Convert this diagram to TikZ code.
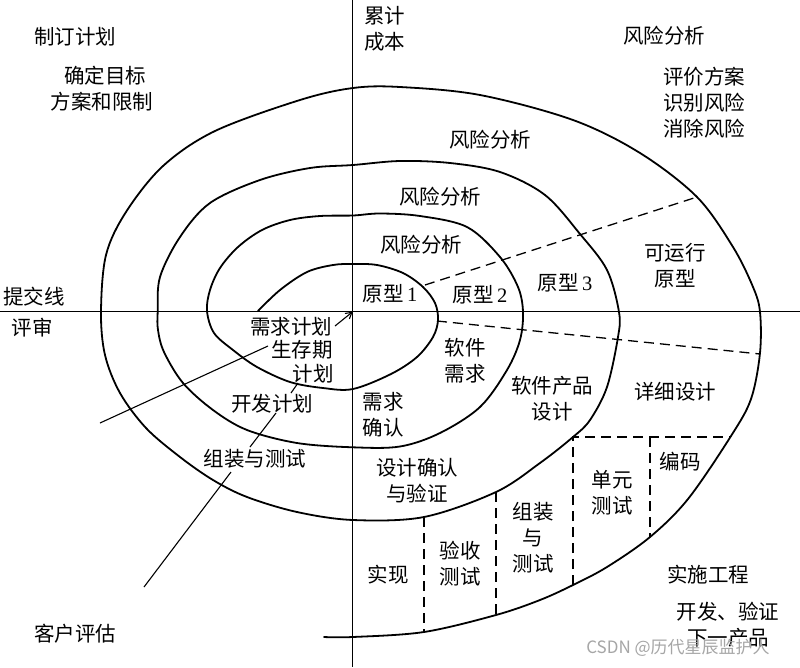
\documentclass[tikz,border=0pt]{standalone}
\usepackage{fontspec}
\setmainfont{Liberation Serif}
\newfontfamily\cjkfont{Noto Sans CJK SC}
\usetikzlibrary{arrows.meta}
\begin{document}
\begin{tikzpicture}[x=1pt,y=-1pt,
  lbl/.style={font=\cjkfont\fontsize{20.5}{26}\selectfont, inner sep=0pt, align=center},
  spiral/.style={line width=1.8pt, line join=round, line cap=round},
  axis/.style={line width=1.1pt},
  dsh/.style={line width=1.3pt, dash pattern=on 10pt off 6pt},
  lead/.style={line width=1.1pt}]
\useasboundingbox[fill=white] (0,0) rectangle (800,667);

% axes
\coordinate (vTop) at (352.7,0);
\coordinate (vBot) at (352.7,667);
\coordinate (hL) at (0,311.7);
\coordinate (hR) at (800,311.7);
\coordinate (O) at (352.7,311.7);
\draw[axis] (vTop) -- (vBot);
\draw[axis] (hL) -- (hR);

% spiral
\draw[spiral] plot[smooth, tension=0.55] coordinates {
 (258,311) (280,290) (307,272) (333,265) (353,264)
 (377,265) (403,273) (423,287) (435,303) (438,320) (433,337) (417,357) (391,374) (353,389)
 (323,388) (290,382) (257,367) (233,350) (214,333) (207,311) (210,290) (220,268) (238,247) (262,230) (290,220) (320,216) (353,215.5)
 (380,213.5) (420,216) (467,227) (500,257) (518,287) (523,312) (520,340) (507,370) (480,407) (440,433) (400,446.5) (353,447.3)
 (297,443) (247,430) (213,410) (183,383) (164,352) (158,330) (157.7,311.7) (160,277) (180,237) (210,203) (260,180) (310,168) (353,165)
 (400,161) (450,163) (500,172) (545,195) (580,234) (607,270) (619,312) (618,337) (607,387) (590,420) (573,437) (540,463) (496,492) (424,517) (353,520)
 (297,512) (247,497) (213,480) (180,457) (146,428) (120,393) (105,355) (101,312) (106,255) (126,212) (163,166) (215,131) (300,100) (353,88)
 (400,87) (480,95) (573,120) (640,153) (697,197) (733,247) (753,287) (760,312) (760,353) (751,399) (731,436) (688,499) (650,537) (607,567) (573,585) (540,600) (496,615) (424,632) (353,637) (324,637)
};

% dashed partitions
\coordinate (dU1) at (425,285);
\coordinate (dU2) at (697,197);
\coordinate (dL1) at (437,321);
\coordinate (dL2) at (760,354);
\coordinate (bx1) at (573,437);
\coordinate (bx2) at (730,437);
\coordinate (bx3) at (650,437);
\coordinate (bx1b) at (573,585);
\coordinate (bx3b) at (650,537);
\coordinate (bx4t) at (496,492);
\coordinate (bx4b) at (496,615);
\coordinate (bx5t) at (424,517);
\coordinate (bx5b) at (424,632);
\draw[dsh] (dU1) -- (dU2);
\draw[dsh] (dL1) -- (dL2);
\draw[dsh] (bx1b) -- (bx1) -- (bx2);
\draw[dsh] (bx3) -- (bx3b);
\draw[dsh] (bx4t) -- (bx4b);
\draw[dsh] (bx5t) -- (bx5b);

% labels
\node[lbl] (zdjh) at (75,37) {制订计划};
\node[lbl] (qdmb) at (105,76) {确定目标};
\node[lbl] (fahx) at (102,102) {方案和限制};
\node[lbl, anchor=west] (leiji) at (364,16) {累计};
\node[lbl, anchor=west] (chengben) at (364,42) {成本};
\node[lbl] (fxfx0) at (664,36) {风险分析};
\node[lbl] (pjfa) at (704,103) {评价方案\\识别风险\\消除风险};
\node[lbl] (fxfx1) at (490,140) {风险分析};
\node[lbl] (fxfx2) at (440,197) {风险分析};
\node[lbl] (fxfx3) at (421,245) {风险分析};
\node[lbl] (tjx) at (34,297) {提交线};
\node[lbl] (ps) at (32,328) {评审};
\node[lbl] (yx1) at (390,294) {原型\,{\rmfamily 1}};
\node[lbl] (yx2) at (480,295) {原型\,{\rmfamily 2}};
\node[lbl] (yx3) at (565,283) {原型\,{\rmfamily 3}};
\node[lbl] (kyx) at (675,266) {可运行\\原型};
\node[lbl] (xqjh) at (291,327) {需求计划};
\node[lbl] (scq) at (302,350) {生存期};
\node[lbl] (jh) at (313,374) {计划};
\node[lbl] (kfjh) at (272,404) {开发计划};
\node[lbl] (rjxq) at (465,361) {软件\\需求};
\node[lbl] (rjcp) at (552,399) {软件产品\\设计};
\node[lbl] (xxsj) at (675,392) {详细设计};
\node[lbl] (xqqr) at (383,415) {需求\\确认};
\node[lbl] (zzcs) at (255,459) {组装与测试};
\node[lbl] (sjqr) at (417,481) {设计确认\\与验证};
\node[lbl] (bm) at (680,462) {编码};
\node[lbl] (dycs) at (612,493) {单元\\测试};
\node[lbl] (zzycs) at (533,538) {组装\\与\\测试};
\node[lbl] (yscs) at (460,564) {验收\\测试};
\node[lbl] (sx) at (388,575) {实现};
\node[lbl] (ssgc) at (708,575) {实施工程};
\node[lbl] (kfyz) at (728,625) {开发、验证\\下一产品};
\node[lbl] (khpg) at (75,634) {客户评估};
\node[font=\cjkfont\fontsize{17}{20}\selectfont, text=black!35, inner sep=0pt] (wm) at (678,648) {CSDN @历代星辰监护人};

% leaders
\coordinate (arS) at (335,326);
\draw[lead, -{Straight Barb[length=6pt,width=7pt]}] (arS) -- (O);
\coordinate (sA) at (268,346);
\coordinate (sB) at (100,423);
\draw[lead] (sA) -- (sB);
\coordinate (cA) at (298,383);
\coordinate (cB) at (291,393);
\coordinate (cC) at (276,413);
\coordinate (cD) at (250,447);
\coordinate (cE) at (231,472);
\coordinate (cF) at (144,587);
\draw[lead] (cA) -- (cB);
\draw[lead] (cC) -- (cD);
\draw[lead] (cE) -- (cF);
\end{tikzpicture}
\end{document}
